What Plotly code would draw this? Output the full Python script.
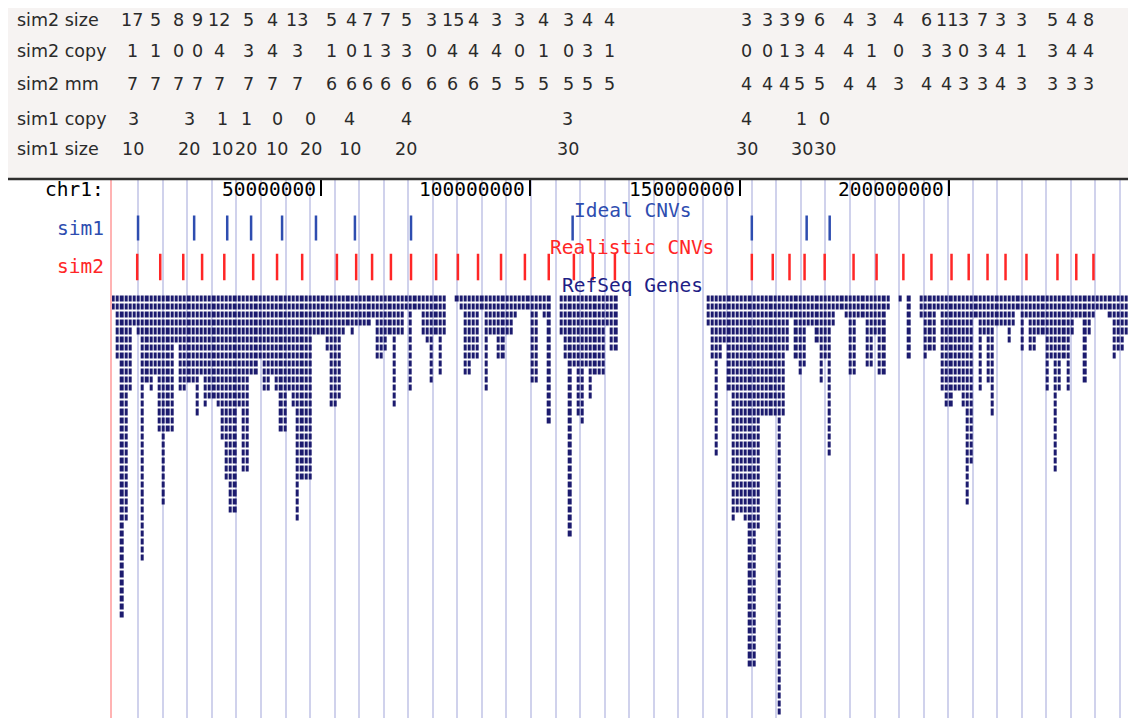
import plotly.graph_objects as go

# ---------------- data ----------------
# Ideal CNVs (sim1): positions on chr1 in Mb, copy number and size
sim1_pos_mb = [6.3, 19.7, 27.6, 33.3, 40.7, 48.8, 58.1, 71.5, 110.1, 152.9, 166.0, 171.5]
sim1_copy = [3, 3, 1, 1, 0, 0, 4, 4, 3, 4, 1, 0]
sim1_size = [10, 20, 10, 20, 10, 20, 10, 20, 30, 30, 30, 30]

# Realistic CNVs (sim2): positions on chr1 in Mb, size, copy, mm
sim2_pos_mb = [6.1, 11.6, 17.1, 21.6, 26.9, 33.8, 39.5, 45.5, 53.8, 58.4, 62.2, 66.7,
               71.5, 77.5, 82.7, 87.5, 93.0, 98.7, 104.4, 110.4, 114.9, 120.2,
               152.9, 157.9, 161.9, 165.5, 170.3, 177.2, 182.7, 189.1, 195.8, 200.6,
               204.7, 209.2, 213.5, 218.5, 225.9, 230.4, 234.5]
sim2_size = [17, 5, 8, 9, 12, 5, 4, 13, 5, 4, 7, 7, 5, 3, 15, 4, 3, 3, 4, 3, 4, 4,
             3, 3, 3, 9, 6, 4, 3, 4, 6, 11, 3, 7, 3, 3, 5, 4, 8]
sim2_copy = [1, 1, 0, 0, 4, 3, 4, 3, 1, 0, 1, 3, 3, 0, 4, 4, 4, 0, 1, 0, 3, 1,
             0, 0, 1, 3, 4, 4, 1, 0, 3, 3, 0, 3, 4, 1, 3, 4, 4]
sim2_mm = [7, 7, 7, 7, 7, 7, 7, 7, 6, 6, 6, 6, 6, 6, 6, 6, 5, 5, 5, 5, 5, 5,
           4, 4, 4, 5, 5, 4, 4, 3, 4, 4, 3, 3, 4, 3, 3, 3, 3]

# RefSeq genes: number of stacked gene rows per 1-Mb bin along chr1 (bin 0 = 0-1 Mb)
gene_depth = [
    2, 8, 40, 28, 12, 4, 5, 33, 11, 12,
    10, 17, 26, 17, 17, 6, 12, 12, 11, 11,
    15, 10, 14, 13, 13, 14, 18, 23, 27, 27,
    14, 22, 22, 10, 10, 8, 12, 12, 10, 12,
    17, 17, 12, 14, 28, 23, 23, 23, 5, 5,
    5, 7, 14, 14, 13, 5, 4, 5, 4, 4,
    4, 4, 3, 8, 8, 7, 5, 14, 5, 5,
    2, 12, 2, 2, 5, 6, 11, 5, 10, 5,
    0, 0, 1, 2, 10, 10, 8, 8, 2, 12,
    5, 5, 8, 8, 5, 5, 3, 2, 2, 2,
    11, 11, 2, 3, 16, 0, 0, 5, 8, 30,
    9, 15, 16, 9, 13, 10, 10, 10, 4, 7,
    7, 0, 0, 0, 0, 0, 0, 0, 0, 0,
    0, 0, 0, 0, 0, 0, 0, 0, 0, 0,
    0, 0, 4, 8, 20, 8, 6, 12, 28, 27,
    27, 28, 46, 46, 29, 15, 15, 15, 15, 52,
    15, 7, 3, 8, 10, 9, 4, 4, 6, 11,
    8, 20, 4, 2, 2, 3, 10, 10, 3, 3,
    9, 9, 5, 10, 10, 2, 0, 0, 1, 0,
    8, 0, 0, 3, 8, 7, 7, 2, 12, 14,
    14, 12, 12, 14, 26, 21, 3, 12, 5, 11,
    15, 4, 4, 4, 6, 4, 2, 7, 3, 7,
    7, 5, 5, 12, 8, 22, 12, 8, 12, 5,
    3, 3, 11, 5, 3, 2, 2, 2, 3, 8,
    7, 7, 5, 8,
]

axis_ticks_mb = [50, 100, 150, 200]
axis_tick_labels = ["50000000", "100000000", "150000000", "200000000"]

# ---------------- layout constants (page pixels) ----------------
PAGE_W, PAGE_H = 1136, 718
OFF = 8                      # default body margin of the html page
W, H = PAGE_W - OFF, PAGE_H - OFF
PX_PER_MB = 4.1867
X0_PX = 111.67
BROWSER_TOP = 180
GENE_TOP = 294.5
ROW_PX = 8.1
GRID_START, GRID_STEP = 6.36, 5.862
grid_vals = [GRID_START + GRID_STEP * i for i in range(41)]


def py(p):
    return 1 - (p - OFF) / H


def px(p):
    return (p - OFF) / W


TABLE_FONT = dict(family="DejaVu Sans", size=17.5, color="#2a2a2a")
MONO = "DejaVu Sans Mono"
MSIZE = 19.5
BLUE = "#2e4db0"
RED = "#ff2626"
NAVY = "#1c1b6e"

fig = go.Figure()

# gene heatmap
n_rows = max(gene_depth)
z = [[1 if r < d else None for d in gene_depth] for r in range(n_rows)]
fig.add_trace(go.Heatmap(
    x=[k + 0.5 for k in range(len(gene_depth))],
    y=[r + 0.5 for r in range(n_rows)],
    z=z, colorscale=[[0, NAVY], [1, NAVY]], showscale=False,
    xgap=1, ygap=2, hoverinfo="skip", yaxis="y2", zmin=0, zmax=1,
))

# CNV tick tracks
fig.add_trace(go.Scatter(
    x=sim1_pos_mb, y=[228] * len(sim1_pos_mb), mode="markers",
    marker=dict(symbol="line-ns", size=18, color=BLUE, line=dict(width=2.5, color=BLUE)),
    hoverinfo="skip",
))
fig.add_trace(go.Scatter(
    x=sim2_pos_mb, y=[267] * len(sim2_pos_mb), mode="markers",
    marker=dict(symbol="line-ns", size=19, color=RED, line=dict(width=2.5, color=RED)),
    hoverinfo="skip",
))

annotations = []
# table rows
rows = [("sim2 size", 20, sim2_pos_mb, sim2_size),
        ("sim2 copy", 51, sim2_pos_mb, sim2_copy),
        ("sim2 mm", 84, sim2_pos_mb, sim2_mm),
        ("sim1 copy", 119, sim1_pos_mb, sim1_copy),
        ("sim1 size", 149, sim1_pos_mb, sim1_size)]
for label, ypx, pos, vals in rows:
    annotations.append(dict(x=px(15), y=py(ypx), xref="paper", yref="paper", text=label,
                            showarrow=False, xanchor="left", yanchor="middle", font=TABLE_FONT))
    for p, v in zip(pos, vals):
        annotations.append(dict(x=p, y=py(ypx), xref="x", yref="paper", text=str(v),
                                showarrow=False, xanchor="center", yanchor="middle",
                                xshift=-5, font=TABLE_FONT))

# browser labels
annotations.append(dict(x=px(106), y=py(189), xref="paper", yref="paper", text="chr1:",
                        showarrow=False, xanchor="right", yanchor="middle",
                        font=dict(family=MONO, size=MSIZE, color="#000")))
for t, lab in zip(axis_ticks_mb, axis_tick_labels):
    annotations.append(dict(x=t, y=py(189), xref="x", yref="paper", text=lab, showarrow=False,
                            xanchor="right", yanchor="middle", xshift=-3,
                            font=dict(family=MONO, size=MSIZE, color="#000")))
annotations.append(dict(x=px(106), y=py(228), xref="paper", yref="paper", text="sim1",
                        showarrow=False, xanchor="right", yanchor="middle",
                        font=dict(family=MONO, size=MSIZE, color=BLUE)))
annotations.append(dict(x=px(106), y=py(267), xref="paper", yref="paper", text="sim2",
                        showarrow=False, xanchor="right", yanchor="middle",
                        font=dict(family=MONO, size=MSIZE, color=RED)))
for txt, ypx, col in [("Ideal CNVs", 210, BLUE), ("Realistic CNVs", 247, RED),
                      ("RefSeq Genes", 286, "#1e1e86")]:
    annotations.append(dict(x=px(632), y=py(ypx), xref="paper", yref="paper", text=txt,
                            showarrow=False, xanchor="center", yanchor="middle",
                            font=dict(family=MONO, size=MSIZE, color=col)))

shapes = [
    dict(type="rect", xref="paper", yref="paper", x0=0, x1=1, y0=py(178), y1=py(8),
         fillcolor="#f6f3f2", line=dict(width=0), layer="below"),
    dict(type="line", xref="paper", yref="paper", x0=0, x1=1, y0=py(179), y1=py(179),
         line=dict(color="#2f2f2f", width=2.5)),
]

fig.update_layout(
    width=W, height=H, margin=dict(l=0, r=0, t=0, b=0),
    paper_bgcolor="white", plot_bgcolor="white", showlegend=False,
    annotations=annotations, shapes=shapes,
    xaxis=dict(domain=[px(X0_PX), 1], range=[0, (PAGE_W - X0_PX) / PX_PER_MB], side="top",
               anchor="y", tickmode="array", tickvals=axis_ticks_mb, showticklabels=False,
               ticks="inside", ticklen=16, tickwidth=2, tickcolor="#000",
               showgrid=False, zeroline=False, showline=False,
               minor=dict(tickmode="array", tickvals=grid_vals, showgrid=True,
                          gridcolor="#d0d2ec", gridwidth=1.6, ticks="")),
    yaxis=dict(domain=[0, py(BROWSER_TOP)], range=[PAGE_H, BROWSER_TOP], showgrid=False,
               zeroline=False, showticklabels=False, ticks="", showline=True,
               linecolor="#ffb3b3", linewidth=1.6, anchor="x"),
    yaxis2=dict(overlaying="y",
                range=[(PAGE_H - GENE_TOP) / ROW_PX, -(GENE_TOP - BROWSER_TOP) / ROW_PX],
                visible=False, showgrid=False, zeroline=False),
)

fig.write_html("out.html")
